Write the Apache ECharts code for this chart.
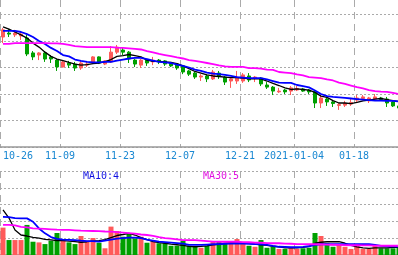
<!DOCTYPE html>
<html><head><meta charset="utf-8">
<script src="https://cdn.jsdelivr.net/npm/echarts@6/dist/echarts.min.js"></script>
<style>html,body{margin:0;padding:0;background:#fff;}#c{width:398px;height:255px;}</style>
</head><body><div id="c"></div>
<script>
const dates = ['2020-10-26','2020-10-27','2020-10-28','2020-10-29','2020-10-30','2020-11-02','2020-11-03','2020-11-04','2020-11-05','2020-11-06',
'2020-11-09','2020-11-10','2020-11-11','2020-11-12','2020-11-13','2020-11-16','2020-11-17','2020-11-18','2020-11-19','2020-11-20',
'2020-11-23','2020-11-24','2020-11-25','2020-11-26','2020-11-27','2020-11-30','2020-12-01','2020-12-02','2020-12-03','2020-12-04',
'2020-12-07','2020-12-08','2020-12-09','2020-12-10','2020-12-11','2020-12-14','2020-12-15','2020-12-16','2020-12-17','2020-12-18',
'2020-12-21','2020-12-22','2020-12-23','2020-12-24','2020-12-25','2020-12-28','2020-12-29','2020-12-30','2020-12-31','2021-01-04',
'2021-01-05','2021-01-06','2021-01-07','2021-01-08','2021-01-11','2021-01-12','2021-01-13','2021-01-14','2021-01-15','2021-01-18',
'2021-01-19','2021-01-20','2021-01-21','2021-01-22','2021-01-25','2021-01-26','2021-01-27'];
const tickDates = ['2020-10-26','2020-11-09','2020-11-23','2020-12-07','2020-12-21','2021-01-04','2021-01-18'];
const tickLabels = ['10-26','11-09','11-23','12-07','12-21','2021-01-04','01-18'];

const open = [14.15,14.30,14.23,14.19,14.11,13.55,13.47,13.55,13.40,13.28, 13.02,13.17,13.13,12.98,13.09,13.17,13.40,13.13,13.21,13.58,
13.66,13.58,13.28,13.09,13.28,13.21,13.28,13.25,13.17,13.13, 13.06,12.87,12.79,12.64,12.68,12.57,12.79,12.64,12.49,12.49,
12.49,12.68,12.60,12.60,12.34,12.26,12.08,12.15,12.11,12.15, 12.19,12.15,12.08,11.66,11.81,11.70,11.57,11.58,11.62,11.77,
11.83,11.74,11.81,11.85,11.81,11.70,11.55];
const close = [14.42,14.26,14.30,14.26,13.51,13.40,13.55,13.32,13.32,13.02, 13.21,13.09,12.98,13.17,13.13,13.40,13.17,13.25,13.58,13.77,
13.58,13.32,13.13,13.28,13.17,13.28,13.21,13.13,13.06,12.98, 12.83,12.75,12.64,12.68,12.57,12.83,12.68,12.45,12.57,12.64,
12.72,12.53,12.64,12.38,12.26,12.11,12.11,12.08,12.23,12.21, 12.11,12.08,11.66,11.85,11.70,11.64,11.60,11.64,11.68,11.85,
11.89,11.85,11.89,11.79,11.66,11.55,11.47];
const low = [13.92,14.15,14.15,14.04,13.43,13.28,13.28,13.21,13.17,12.87, 13.00,12.98,12.87,12.91,13.02,13.13,13.13,13.09,13.17,13.51,
13.47,13.17,13.02,12.98,13.06,13.09,13.13,13.06,13.02,12.91, 12.75,12.68,12.57,12.49,12.45,12.53,12.57,12.34,12.23,12.38,
12.42,12.45,12.45,12.30,12.19,11.96,12.04,12.00,11.96,12.11, 12.08,12.00,11.47,11.47,11.55,11.51,11.40,11.51,11.55,11.70,
11.77,11.66,11.74,11.74,11.51,11.51,11.43];
const high = [14.49,14.45,14.42,14.30,14.23,13.62,13.58,13.62,13.47,13.32, 13.25,13.25,13.21,13.25,13.21,13.43,13.42,13.28,13.81,13.85,
13.74,13.62,13.32,13.32,13.32,13.40,13.32,13.28,13.21,13.17, 13.09,12.91,12.83,12.75,12.72,12.91,12.87,12.68,12.64,12.87,
12.79,12.79,12.68,12.64,12.45,12.30,12.23,12.19,12.30,12.30, 12.23,12.19,12.11,11.96,11.89,11.77,11.66,11.74,11.85,11.96,
11.96,11.89,12.00,11.89,11.89,11.74,11.58];

const ma5 = [14.53,14.45,14.34,14.23,14.11,13.92,13.77,13.58,13.42,13.32, 13.26,13.19,13.13,13.09,13.11,13.15,13.17,13.22,13.30,13.42,
13.45,13.49,13.45,13.40,13.28,13.23,13.23,13.21,13.19,13.15, 13.06,12.96,12.85,12.79,12.72,12.68,12.66,12.64,12.62,12.62,
12.60,12.57,12.58,12.57,12.49,12.40,12.32,12.23,12.17,12.19, 12.17,12.15,12.06,11.92,11.87,11.75,11.66,11.66,11.64,11.68,
11.74,11.77,11.81,11.83,11.79,11.75,11.72];
const ma10 = [14.38,14.38,14.38,14.34,14.26,14.15,14.00,13.89,13.74,13.62, 13.47,13.42,13.30,13.25,13.21,13.19,13.19,13.21,13.21,13.26,
13.30,13.34,13.36,13.36,13.32,13.26,13.21,13.19,13.17,13.11, 13.06,13.00,12.92,12.87,12.81,12.77,12.75,12.72,12.68,12.64,
12.62,12.60,12.60,12.60,12.55,12.49,12.43,12.42,12.42,12.34, 12.30,12.25,12.13,12.00,11.92,11.89,11.87,11.85,11.83,11.81,
11.79,11.77,11.75,11.75,11.74,11.74,11.72];
const ma30 = [13.89,13.89,13.92,13.92,13.92,13.92,13.92,13.92,13.91,13.91, 13.89,13.85,13.81,13.79,13.77,13.77,13.77,13.77,13.77,13.75,
13.74,13.72,13.70,13.68,13.62,13.57,13.51,13.47,13.43,13.38, 13.34,13.28,13.25,13.21,13.17,13.13,13.08,13.04,13.02,13.02,
13.02,12.98,12.98,12.96,12.92,12.91,12.83,12.81,12.79,12.74, 12.70,12.64,12.62,12.60,12.55,12.51,12.43,12.38,12.32,12.26,
12.21,12.15,12.11,12.09,12.08,12.04,12.00];

const vol = [1.63,0.89,0.89,0.89,1.79,0.79,0.75,0.65,0.85,1.31, 0.89,0.75,0.65,1.13,0.85,1.01,0.73,0.40,1.69,1.43,
1.09,1.29,0.99,1.09,0.73,0.79,0.70,0.70,0.55,0.55, 0.85,0.55,0.49,0.43,0.55,0.79,0.79,0.70,0.75,0.95,
0.70,0.55,0.49,0.89,0.43,0.49,0.36,0.36,0.43,0.36, 0.40,0.43,1.31,1.13,0.70,0.49,0.64,0.49,0.36,0.60,
0.36,0.36,0.55,0.40,0.40,0.40,0.55];
const vma5 = [2.68,2.20,1.49,1.19,1.13,1.05,1.00,0.93,0.90,0.85, 0.85,0.82,0.80,0.76,0.79,0.83,0.85,0.92,1.04,1.16,
1.22,1.29,1.19,1.04,0.92,0.79,0.74,0.70,0.65,0.61, 0.57,0.51,0.49,0.51,0.54,0.60,0.64,0.70,0.73,0.74,
0.74,0.70,0.65,0.61,0.57,0.52,0.48,0.43,0.43,0.43, 0.45,0.51,0.70,0.76,0.79,0.79,0.79,0.70,0.57,0.48,
0.42,0.40,0.42,0.43,0.43,0.45,0.46];
const vma10 = [2.27,2.25,2.20,2.18,2.18,1.98,1.58,1.29,1.07,0.96, 0.92,0.90,0.88,0.85,0.83,0.82,0.79,0.86,0.92,0.97,
1.01,1.04,1.04,1.00,0.92,0.86,0.80,0.77,0.74,0.71, 0.68,0.60,0.60,0.60,0.62,0.64,0.65,0.67,0.68,0.70,
0.68,0.67,0.65,0.64,0.60,0.54,0.49,0.48,0.46,0.46, 0.48,0.52,0.60,0.64,0.64,0.64,0.64,0.64,0.64,0.64,
0.64,0.64,0.60,0.54,0.52,0.51,0.49];
const vma30 = [1.79,1.79,1.76,1.68,1.64,1.59,1.57,1.55,1.53,1.51, 1.50,1.49,1.47,1.45,1.44,1.43,1.42,1.40,1.39,1.36,
1.33,1.30,1.27,1.22,1.19,1.14,1.07,1.01,0.97,0.93, 0.89,0.89,0.88,0.86,0.83,0.80,0.79,0.79,0.79,0.79,
0.77,0.76,0.74,0.73,0.71,0.70,0.70,0.68,0.67,0.65, 0.65,0.64,0.64,0.63,0.62,0.61,0.60,0.59,0.58,0.58,
0.57,0.57,0.56,0.55,0.55,0.55,0.55];

const volLegend = ['MA10:4', 'MA30:5'];

const UP = '#ff5a5a', DOWN = '#00a000';
const GRID_C = '#aaaaaa', AXIS_C = '#999999';
const isTick = (i, v) => tickDates.indexOf(v) >= 0;
const fmt = v => { const k = tickDates.indexOf(v); return k >= 0 ? tickLabels[k] : ''; };

const candles = dates.map((d, i) => [open[i], close[i], low[i], high[i]]);
const volData = vol.map((v, i) => ({ value: v, itemStyle: { color: close[i] >= open[i] ? UP : DOWN } }));

const vSplit = { show: true, interval: isTick, lineStyle: { color: GRID_C, type: [7, 5], width: 1 } };
const hSplit = { show: true, lineStyle: { color: GRID_C, type: [2, 2], width: 1 } };
const line = (data, color, w, xi, yi) => ({ type: 'line', data, xAxisIndex: xi, yAxisIndex: yi, symbol: 'none', showSymbol: false,
  lineStyle: { color, width: w }, itemStyle: { color }, z: 5, silent: true });

const chart = echarts.init(document.getElementById('c'), null, { renderer: 'canvas' });
chart.setOption({
  animation: false,
  grid: [
    { left: 0, right: -4, top: -12, height: 159, outerBoundsMode: 'none', containLabel: false },
    { left: 0, right: -4, top: 171, height: 84, outerBoundsMode: 'none', containLabel: false }
  ],
  xAxis: [
    { type: 'category', gridIndex: 0, data: dates, boundaryGap: true,
      axisLine: { show: true, lineStyle: { color: AXIS_C, width: 1.5 } }, axisTick: { show: false },
      axisLabel: { interval: isTick, formatter: fmt, color: '#1a88d2', fontFamily: 'DejaVu Sans Mono', fontSize: 10,
        margin: 4, padding: [0, 6, 0, 0], alignMinLabel: 'left' },
      splitLine: vSplit },
    { type: 'category', gridIndex: 1, data: dates, boundaryGap: true, position: 'top',
      axisLine: { show: true, lineStyle: { color: AXIS_C, width: 1.5 } }, axisTick: { show: false },
      axisLabel: { show: false }, splitLine: vSplit }
  ],
  yAxis: [
    { type: 'value', gridIndex: 0, min: 10, max: 16, interval: 1, axisLine: { show: false }, axisTick: { show: false },
      axisLabel: { show: false }, splitLine: hSplit },
    { type: 'value', gridIndex: 1, min: 0, max: 5, interval: 1, axisLine: { show: false }, axisTick: { show: false },
      axisLabel: { show: false }, splitLine: hSplit }
  ],
  graphic: [
    { type: 'text', left: 83, top: 171, style: { text: volLegend[0], fill: '#1010e0', font: '10px "DejaVu Sans Mono"' } },
    { type: 'text', left: 203, top: 171, style: { text: volLegend[1], fill: '#e010e0', font: '10px "DejaVu Sans Mono"' } }
  ],
  series: [
    { type: 'candlestick', xAxisIndex: 0, yAxisIndex: 0, data: candles, barWidth: 4,
      itemStyle: { color: UP, color0: DOWN, borderColor: UP, borderColor0: DOWN, borderWidth: 1 } },
    line(ma5, '#000000', 1.3, 0, 0),
    line(ma10, '#0000ff', 1.8, 0, 0),
    line(ma30, '#ff00ff', 1.8, 0, 0),
    { type: 'bar', xAxisIndex: 1, yAxisIndex: 1, data: volData, barWidth: 5 },
    line(vma5, '#000000', 1.3, 1, 1),
    line(vma10, '#0000ff', 1.8, 1, 1),
    line(vma30, '#ff00ff', 1.8, 1, 1)
  ]
});
</script></body></html>
